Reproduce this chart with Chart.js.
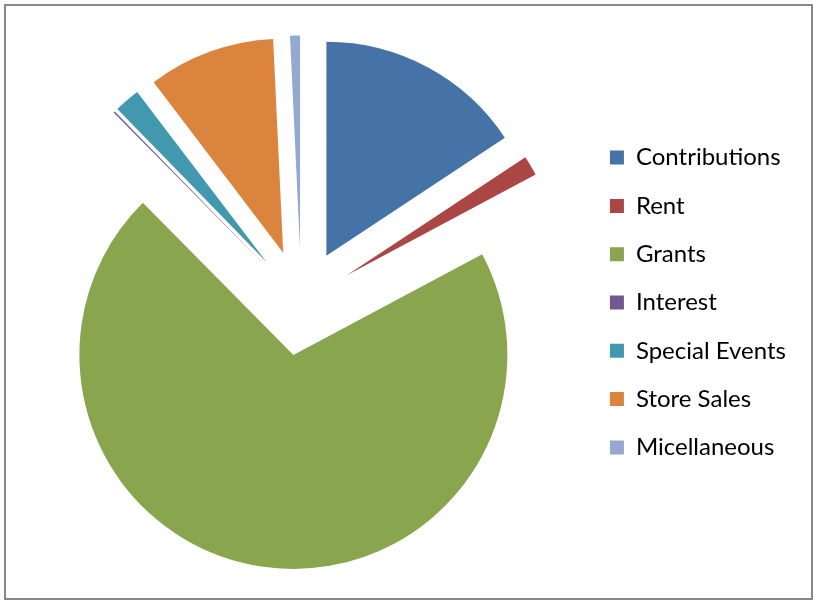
<!DOCTYPE html>
<html>
<head>
<meta charset="utf-8">
<script src="https://cdn.jsdelivr.net/npm/chart.js@4"></script>
<style>
    body { margin: 0; background: #fff; }
    #frame {
        position: absolute; left: 4px; top: 4px;
        width: 809px; height: 596px;
        box-sizing: border-box;
        border: 2px solid #888;
    }
    #chartWrap { position: absolute; left: 0; top: 0; width: 805px; height: 592px; }
</style>
</head>
<body>
<div id="frame">
    <div id="chartWrap"><canvas id="pieChart"></canvas></div>
</div>
<script>
// Income sources (share of total, %)
const categories = ['Contributions', 'Rent', 'Grants', 'Interest', 'Special Events', 'Store Sales', 'Micellaneous'];
const shares = [15.7, 1.5, 70.4, 0.12, 1.95, 9.6, 0.75];
const sliceColors = ['#4572A7', '#AA4643', '#89A54E', '#71588F', '#4198AF', '#DB843D', '#93A9CF'];

// how far every slice is pulled out from the centre (px)
const explodeDistance = 53;

// Chart.js' own offset also grows the radius, so push the arcs out by hand
const explodePlugin = {
    id: 'explode',
    afterUpdate(chart) {
        const meta = chart.getDatasetMeta(0);
        meta.data.forEach(arc => {
            const mid = (arc.startAngle + arc.endAngle) / 2;
            arc.x += Math.cos(mid) * explodeDistance;
            arc.y += Math.sin(mid) * explodeDistance;
        });
    }
};

document.addEventListener('DOMContentLoaded', function () {
    const ctx = document.getElementById('pieChart').getContext('2d');
    new Chart(ctx, {
        type: 'pie',
        data: {
            labels: categories,
            datasets: [{
                data: shares,
                backgroundColor: sliceColors,
                borderWidth: 0,
                hoverOffset: 0
            }]
        },
        options: {
            responsive: true,
            maintainAspectRatio: false,
            animation: false,
            radius: 214,
            events: [],
            layout: {
                padding: { left: 11, right: 15, top: 1, bottom: 0 }
            },
            plugins: {
                tooltip: { enabled: false },
                legend: {
                    position: 'right',
                    labels: {
                        boxWidth: 14,
                        boxHeight: 14,
                        padding: 24.3,
                        color: '#000',
                        font: { family: 'Lato', size: 24 }
                    }
                }
            }
        },
        plugins: [explodePlugin]
    });
});
</script>
</body>
</html>
